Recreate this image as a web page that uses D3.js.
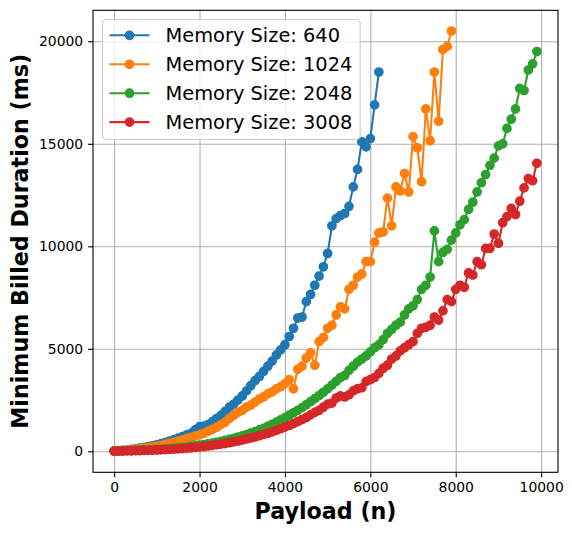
<!DOCTYPE html>
<html>
<head>
	<meta charset="utf-8">
	<title>Minimum Billed Duration</title>
	<script src="https://d3js.org/d3.v7.min.js"></script>
	<style type="text/css">
		body { margin:0; background:#fff; }
		text { font-family:"DejaVu Sans", sans-serif; }
	</style>
</head>
<body>
<script>
// payload sizes (n), one sample every 100
var payload = [0,100,200,300,400,500,600,700,800,900,1000,1100,1200,1300,1400,1500,1600,1700,1800,1900,
	2000,2100,2200,2300,2400,2500,2600,2700,2800,2900,3000,3100,3200,3300,3400,3500,3600,3700,3800,3900,
	4000,4100,4200,4300,4400,4500,4600,4700,4800,4900,5000,5100,5200,5300,5400,5500,5600,5700,5800,5900,
	6000,6100,6200,6300,6400,6500,6600,6700,6800,6900,7000,7100,7200,7300,7400,7500,7600,7700,7800,7900,
	8000,8100,8200,8300,8400,8500,8600,8700,8800,8900,9000,9100,9200,9300,9400,9500,9600,9700,9800,9900];

var memorySizes = [640, 1024, 2048, 3008];

// minimum billed duration (ms)
var mem640 = [10,20,40,60,90,120,150,190,230,270,320,370,430,500,570,640,720,800,880,1050,
	1200,1230,1300,1450,1600,1750,1950,2150,2300,2500,2700,2950,3200,3450,3650,3900,4150,4400,4700,4950,
	5200,5600,6000,6500,6550,7300,7650,8100,8550,9000,9650,11000,11350,11500,11600,11950,12900,13750,15100,14850,
	15250,16900,18500];

var mem1024 = [10,25,40,60,80,100,125,150,180,210,250,290,340,390,440,500,560,620,680,740,
	800,880,970,1070,1170,1300,1420,1600,1750,1900,2000,2150,2250,2400,2550,2650,2800,2900,3050,3150,
	3300,3500,3050,4000,4150,4550,4800,4200,5350,5550,6000,6150,6650,7050,6950,7900,8100,8500,8650,9250,
	9250,10200,10650,10700,12350,11000,12900,12700,13550,12650,15350,14800,13150,16700,15150,18500,16100,19600,19750,20500];

var mem2048 = [10,15,20,30,35,45,55,65,75,85,95,110,120,135,150,170,190,210,240,270,
	300,330,360,400,440,480,530,580,630,690,750,820,890,960,1040,1120,1220,1320,1420,1530,
	1640,1760,1880,2000,2130,2270,2420,2570,2720,2880,3050,3230,3410,3600,3700,3950,4150,4350,4500,4650,
	4850,5050,5200,5450,5750,5950,6150,6300,6650,6950,7100,7400,7900,8100,8500,10750,9250,9700,9850,10300,
	10650,11050,11300,11800,12150,12650,13100,13500,13950,14300,14900,15000,15750,16200,16700,17700,17600,18600,18900,19500];

var mem3008 = [10,12,15,20,25,30,35,40,50,55,65,75,85,95,105,120,135,150,170,190,
	210,230,260,290,320,350,380,420,460,500,550,600,650,700,760,820,880,950,1020,1100,
	1180,1260,1350,1450,1550,1650,1780,1900,2000,2150,2300,2350,2600,2700,2650,2750,2950,3050,3100,3400,
	3500,3600,3800,4050,4200,4500,4650,4900,5050,5200,5350,5750,6000,6050,6150,6550,6400,6850,7400,7300,
	7900,8100,8000,8700,8600,9250,9100,9900,9900,10600,10150,11150,11450,11850,11550,12200,12850,13300,13200,14050];

var xTicks = [0, 2000, 4000, 6000, 8000, 10000];
var yTicks = [0, 5000, 10000, 15000, 20000];
var colors = ["#1f77b4", "#ff7f0e", "#2ca02c", "#d62728"];

var series = [mem640, mem1024, mem2048, mem3008].map(function(vals, i){
	return {
		label: "Memory Size: " + memorySizes[i],
		color: colors[i],
		points: vals.map(function(v, j){ return [payload[j], v]; })
	};
});

var w = 572, h = 534;
var axL = 93, axR = 558, axT = 10.3, axB = 472.3;

var svg = d3.select("body").append("svg")
	.attr("width", w)
	.attr("height", h);

var xScale = d3.scaleLinear().domain([-495, 10395]).range([axL, axR]);
var yScale = d3.scaleLinear().domain([-1024, 21512]).range([axB, axT]);

// grid
svg.append("g")
	.attr("transform", "translate(0," + axB + ")")
	.call(d3.axisBottom(xScale).tickValues(xTicks).tickSize(-(axB - axT)).tickFormat(""))
	.call(function(g){ g.select(".domain").remove(); })
	.selectAll("line").attr("stroke", "#b0b0b0").attr("stroke-width", 1.1);
svg.append("g")
	.attr("transform", "translate(" + axL + ",0)")
	.call(d3.axisLeft(yScale).tickValues(yTicks).tickSize(-(axR - axL)).tickFormat(""))
	.call(function(g){ g.select(".domain").remove(); })
	.selectAll("line").attr("stroke", "#b0b0b0").attr("stroke-width", 1.1);

// lines + markers
var line = d3.line()
	.x(function(d){ return xScale(d[0]); })
	.y(function(d){ return yScale(d[1]); });

var plot = svg.append("g");
series.forEach(function(s){
	var g = plot.append("g");
	g.append("path")
		.datum(s.points)
		.attr("d", line)
		.attr("fill", "none")
		.attr("stroke", s.color)
		.attr("stroke-width", 2.08)
		.attr("stroke-linejoin", "round");
	g.selectAll("circle")
		.data(s.points)
		.enter().append("circle")
		.attr("cx", function(d){ return xScale(d[0]); })
		.attr("cy", function(d){ return yScale(d[1]); })
		.attr("r", 4.17)
		.attr("fill", s.color)
		.attr("stroke", s.color)
		.attr("stroke-width", 1.39);
});

// axes
var xAxis = svg.append("g")
	.attr("transform", "translate(0," + axB + ")")
	.call(d3.axisBottom(xScale).tickValues(xTicks).tickSize(4.9).tickPadding(4.9).tickFormat(d3.format("d")));
var yAxis = svg.append("g")
	.attr("transform", "translate(" + axL + ",0)")
	.call(d3.axisLeft(yScale).tickValues(yTicks).tickSize(4.9).tickPadding(4.9).tickFormat(d3.format("d")));
[xAxis, yAxis].forEach(function(a){
	a.select(".domain").remove();
	a.selectAll("text").style("font-size", "13.9px").attr("fill", "#000")
		.style("font-family", "'DejaVu Sans', sans-serif");
	a.selectAll("line").attr("stroke", "#000").attr("stroke-width", 1.1);
});

// frame
svg.append("rect")
	.attr("x", axL).attr("y", axT)
	.attr("width", axR - axL).attr("height", axB - axT)
	.attr("fill", "none").attr("stroke", "#000").attr("stroke-width", 1.1);

// axis labels
svg.append("text")
	.attr("x", (axL + axR) / 2).attr("y", 519)
	.attr("text-anchor", "middle")
	.style("font-size", "22.2px").style("font-weight", "bold")
	.text("Payload (n)");
svg.append("text")
	.attr("transform", "translate(28," + (axT + axB) / 2 + ") rotate(-90)")
	.attr("text-anchor", "middle")
	.style("font-size", "22.2px").style("font-weight", "bold")
	.text("Minimum Billed Duration (ms)");

// legend
var legend = svg.append("g");
var box = legend.append("rect")
	.attr("x", 102.5).attr("y", 19.5)
	.attr("height", 120)
	.attr("rx", 3.9).attr("ry", 3.9)
	.attr("fill", "#fff").attr("fill-opacity", 0.8)
	.attr("stroke", "#cccccc").attr("stroke-width", 1.1);
var rowY = [35.3, 64.3, 93.2, 122.1];
var maxW = 0;
series.forEach(function(s, i){
	legend.append("line")
		.attr("x1", 109.5).attr("x2", 149.5)
		.attr("y1", rowY[i]).attr("y2", rowY[i])
		.attr("stroke", s.color).attr("stroke-width", 2.08);
	legend.append("circle")
		.attr("cx", 129.5).attr("cy", rowY[i]).attr("r", 4.17)
		.attr("fill", s.color)
		.attr("stroke", s.color).attr("stroke-width", 1.39);
	var t = legend.append("text")
		.attr("x", 165.5).attr("y", rowY[i])
		.attr("dy", "0.36em")
		.style("font-size", "19.4px")
		.text(s.label);
	maxW = Math.max(maxW, t.node().getComputedTextLength());
});
box.attr("width", 165.5 + maxW + 7.8 - 102.5);
</script>
</body>
</html>
